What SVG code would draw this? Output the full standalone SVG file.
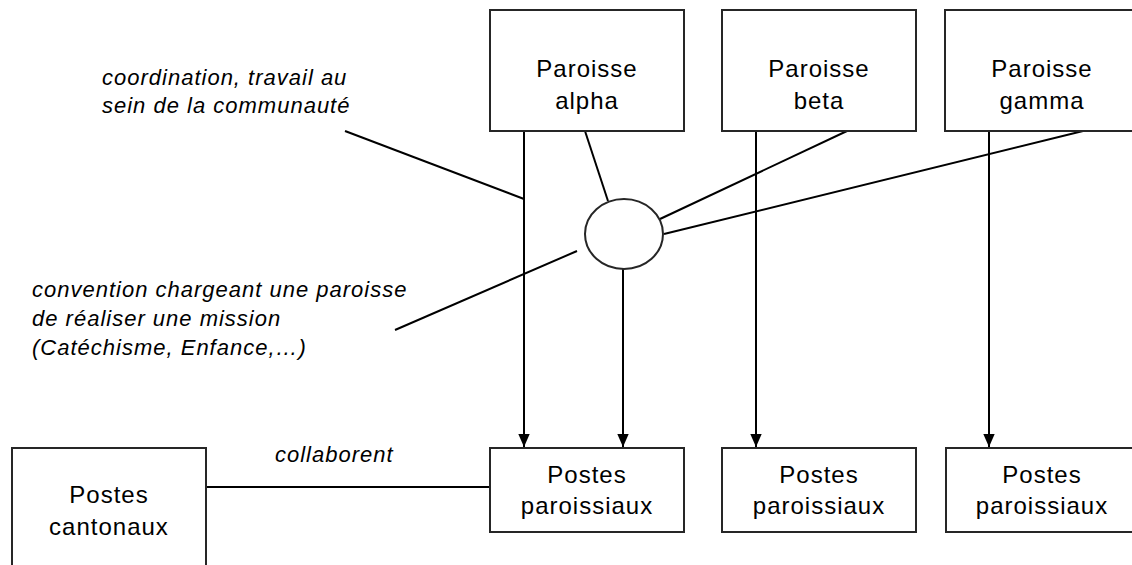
<svg xmlns="http://www.w3.org/2000/svg" width="1132" height="565" viewBox="0 0 1132 565">
<style>
.box{fill:#fff;stroke:#262626;stroke-width:2}
.lbl{font-family:"Liberation Sans",Arial,sans-serif;font-size:24px;letter-spacing:1px;fill:#000;text-anchor:middle}
.it{font-family:"Liberation Sans",Arial,sans-serif;font-size:22px;font-style:italic;letter-spacing:1px;fill:#000}
.ln{fill:none;stroke:#000;stroke-width:2}
</style>
<defs>
<marker id="arr" markerUnits="userSpaceOnUse" markerWidth="14" markerHeight="18" refX="7" refY="16" orient="auto-start-reverse" viewBox="0 0 14 18">
<path d="M0,0 L14,0 L7,16 Z" fill="#000" transform="rotate(-90 7 9)"/>
</marker>
<marker id="ah" markerUnits="userSpaceOnUse" markerWidth="14" markerHeight="17" refX="16" refY="7" orient="auto" viewBox="0 0 17 14">
<path d="M0,0 L16,7 L0,14 Z" fill="#000"/>
</marker>
</defs>
<rect width="1132" height="565" fill="#fff"/>
<g id="connectors">
<line class="ln" x1="524" y1="131" x2="524" y2="447" marker-end="url(#ah)"/>
<line class="ln" x1="623" y1="269" x2="623" y2="447" marker-end="url(#ah)"/>
<line class="ln" x1="756" y1="131" x2="756" y2="447" marker-end="url(#ah)"/>
<line class="ln" x1="989" y1="131" x2="989" y2="447" marker-end="url(#ah)"/>
<line class="ln" x1="585" y1="131" x2="608" y2="201"/>
<line class="ln" x1="660" y1="219" x2="847" y2="131"/>
<line class="ln" x1="664" y1="234" x2="1083" y2="131"/>
<line class="ln" x1="345" y1="131" x2="524" y2="199"/>
<line class="ln" x1="395" y1="330" x2="577" y2="251"/>
<line class="ln" x1="206" y1="487" x2="490" y2="487"/>
</g>
<g id="ellipse"><ellipse class="box" cx="624" cy="234" rx="39" ry="35"/></g>
<g id="paroisse-alpha"><rect class="box" x="490" y="10" width="194" height="121"/><text class="lbl" x="587" y="77">Paroisse</text><text class="lbl" x="587" y="109">alpha</text></g>
<g id="paroisse-beta"><rect class="box" x="722" y="10" width="194" height="121"/><text class="lbl" x="819" y="77">Paroisse</text><text class="lbl" x="819" y="109">beta</text></g>
<g id="paroisse-gamma"><rect class="box" x="945" y="10" width="194" height="121"/><text class="lbl" x="1042" y="77">Paroisse</text><text class="lbl" x="1042" y="109">gamma</text></g>
<g id="postes-alpha"><rect class="box" x="490" y="448" width="194" height="84"/><text class="lbl" x="587" y="483">Postes</text><text class="lbl" x="587" y="514">paroissiaux</text></g>
<g id="postes-beta"><rect class="box" x="722" y="448" width="194" height="84"/><text class="lbl" x="819" y="483">Postes</text><text class="lbl" x="819" y="514">paroissiaux</text></g>
<g id="postes-gamma"><rect class="box" x="946" y="448" width="194" height="84"/><text class="lbl" x="1042" y="483">Postes</text><text class="lbl" x="1042" y="514">paroissiaux</text></g>
<g id="postes-cantonaux"><rect class="box" x="12" y="448" width="194" height="130"/><text class="lbl" x="109" y="503">Postes</text><text class="lbl" x="109" y="535">cantonaux</text></g>
<g id="labels">
<text class="it" x="102" y="85">coordination, travail au</text>
<text class="it" x="102" y="113">sein de la communauté</text>
<text class="it" x="32" y="297">convention chargeant une paroisse</text>
<text class="it" x="32" y="326">de réaliser une mission</text>
<text class="it" x="32" y="355">(Catéchisme, Enfance,…)</text>
<text class="it" x="275" y="462">collaborent</text>
</g>
</svg>
